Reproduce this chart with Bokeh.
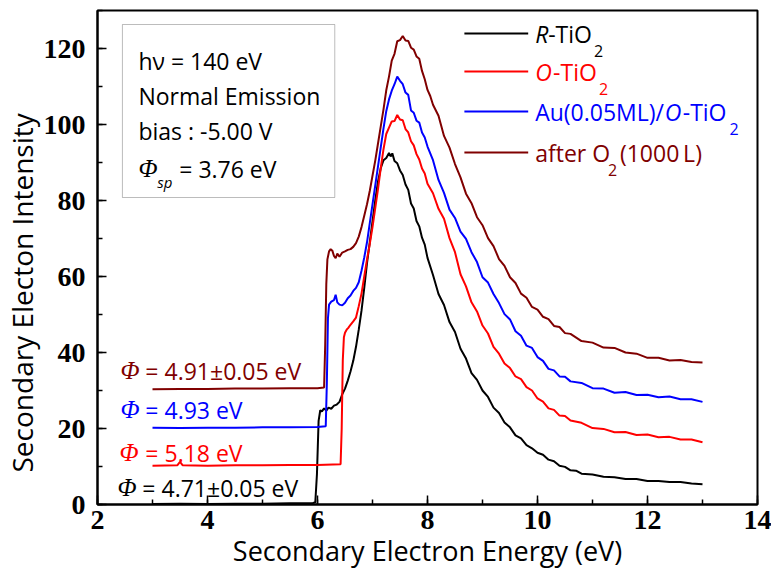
import math
from bokeh.plotting import figure
from bokeh.models import Label, BoxAnnotation, SingleIntervalTicker, Title
from bokeh.embed import file_html
from bokeh.resources import INLINE

# ---------------- data ----------------
r_x = [3.0, 3.5, 4.0, 4.5, 5.0, 5.5, 5.9, 5.96, 5.99, 6.02, 6.05, 6.08, 6.12, 6.16, 6.2, 6.25, 6.3, 6.35, 6.4, 6.45,
       6.5, 6.55, 6.6, 6.65, 6.7, 6.75, 6.8, 6.85, 6.9, 6.95, 7.0, 7.05, 7.1, 7.15, 7.2, 7.25, 7.3, 7.33, 7.36, 7.4,
       7.45, 7.5, 7.55, 7.6, 7.65, 7.7, 7.75, 7.8, 7.85, 7.9, 7.95, 8.0, 8.1, 8.2, 8.3, 8.4, 8.5, 8.6, 8.7, 8.8,
       8.9, 9.0, 9.1, 9.2, 9.3, 9.4, 9.5, 9.6, 9.7, 9.8, 9.9, 10.0, 10.1, 10.2, 10.3, 10.4, 10.5, 10.6, 10.7, 10.8,
       11.0, 11.2, 11.4, 11.6, 11.8, 12.0, 12.2, 12.4, 12.6, 12.8, 13.0]
r_y = [0.1, 0.2, 0.1, 0.2, 0.2, 0.3, 0.3, 0.6, 8.0, 22.0, 24.8, 24.5, 25.3, 24.7, 25.5, 25.2, 26.0, 26.3, 27.0, 29.0,
       30.5, 32.6, 35.0, 37.8, 41.5, 46.0, 51.0, 57.0, 63.5, 69.0, 74.5, 80.0, 85.0, 88.5, 90.6, 91.2, 92.5, 91.6, 92.4, 90.4,
       89.8, 87.9, 86.7, 84.2, 82.8, 79.2, 77.9, 74.6, 73.2, 70.2, 68.4, 64.9, 60.4, 55.4, 52.5, 48.0, 45.4, 41.0, 38.4, 34.6,
       32.8, 30.0, 28.3, 25.5, 24.1, 21.6, 20.3, 18.2, 17.4, 15.6, 14.8, 13.6, 13.1, 11.8, 11.4, 10.2, 9.9, 9.0, 8.9, 8.1,
       7.9, 7.3, 7.2, 6.7, 6.7, 6.2, 6.2, 5.9, 5.9, 5.5, 5.3]

o_x = [3.0, 3.45, 3.5, 3.55, 4.0, 4.5, 5.0, 5.5, 6.0, 6.42, 6.44, 6.46, 6.48, 6.5, 6.53, 6.56, 6.6, 6.65, 6.7, 6.75,
       6.8, 6.85, 6.9, 6.95, 7.0, 7.05, 7.1, 7.15, 7.2, 7.25, 7.3, 7.35, 7.4, 7.45, 7.5, 7.55, 7.6, 7.65, 7.7, 7.75,
       7.8, 7.85, 7.9, 7.95, 8.0, 8.1, 8.2, 8.3, 8.4, 8.5, 8.6, 8.7, 8.8, 8.9, 9.0, 9.1, 9.2, 9.3, 9.4, 9.5,
       9.6, 9.7, 9.8, 9.9, 10.0, 10.1, 10.2, 10.3, 10.4, 10.5, 10.6, 10.8, 11.0, 11.2, 11.4, 11.6, 11.8, 12.0, 12.2, 12.4,
       12.6, 12.8, 13.0]
o_y = [10.2, 10.3, 11.2, 10.3, 10.2, 10.3, 10.3, 10.4, 10.4, 10.6, 20.0, 38.0, 44.0, 45.2, 46.0, 46.5, 47.3, 48.2, 49.2, 52.2,
       55.5, 60.0, 64.5, 68.5, 73.0, 78.0, 83.0, 88.5, 93.5, 97.5, 99.2, 100.8, 100.9, 102.5, 101.3, 101.1, 98.8, 97.9, 95.6, 94.5,
       92.2, 90.8, 88.4, 87.1, 84.4, 81.9, 77.8, 75.2, 70.1, 66.4, 60.6, 57.4, 53.2, 50.8, 47.1, 45.0, 41.5, 39.7, 37.1, 35.9,
       33.7, 33.0, 30.9, 30.0, 27.9, 27.1, 25.3, 24.9, 23.4, 23.3, 22.1, 21.5, 20.1, 19.9, 19.0, 19.1, 18.3, 18.4, 17.7, 17.8,
       17.1, 17.1, 16.4]

au_x = [3.0, 3.5, 4.0, 4.5, 5.0, 5.5, 6.0, 6.15, 6.17, 6.19, 6.21, 6.25, 6.3, 6.33, 6.36, 6.4, 6.45, 6.5, 6.55, 6.6,
        6.65, 6.7, 6.75, 6.8, 6.85, 6.9, 6.95, 7.0, 7.05, 7.1, 7.15, 7.2, 7.25, 7.3, 7.35, 7.4, 7.45, 7.5, 7.55, 7.6,
        7.65, 7.7, 7.75, 7.8, 7.85, 7.9, 7.95, 8.0, 8.1, 8.2, 8.3, 8.4, 8.5, 8.6, 8.7, 8.8, 8.9, 9.0, 9.1, 9.2,
        9.3, 9.4, 9.5, 9.6, 9.7, 9.8, 9.9, 10.0, 10.1, 10.2, 10.3, 10.4, 10.5, 10.6, 10.8, 11.0, 11.2, 11.4, 11.6, 11.8,
        12.0, 12.2, 12.4, 12.6, 12.8, 13.0]
au_y = [20.2, 20.1, 20.2, 20.2, 20.3, 20.3, 20.4, 20.6, 32.0, 49.0, 52.6, 53.4, 53.8, 55.2, 53.2, 52.6, 52.4, 53.1, 54.3, 55.0,
        56.2, 57.0, 58.5, 61.5, 65.0, 69.0, 74.0, 79.0, 84.0, 89.0, 94.0, 99.0, 103.5, 106.6, 108.9, 110.6, 112.6, 111.5, 110.6, 108.4,
        107.8, 103.7, 103.1, 101.0, 100.5, 97.9, 96.6, 94.2, 90.6, 85.4, 82.0, 77.6, 75.4, 71.8, 69.9, 66.4, 63.8, 59.8, 58.4, 55.4,
        53.0, 50.1, 48.7, 45.6, 44.4, 41.8, 41.2, 38.8, 37.8, 35.7, 35.3, 33.7, 33.6, 32.4, 32.0, 30.6, 30.5, 29.4, 29.6, 28.8,
        28.9, 28.2, 28.4, 27.7, 27.7, 27.0]

o2_x = [3.0, 3.5, 4.0, 4.5, 5.0, 5.5, 6.0, 6.12, 6.14, 6.16, 6.18, 6.21, 6.24, 6.27, 6.3, 6.33, 6.36, 6.4, 6.45, 6.5,
        6.55, 6.6, 6.65, 6.7, 6.75, 6.8, 6.85, 6.9, 6.95, 7.0, 7.05, 7.1, 7.15, 7.2, 7.25, 7.3, 7.35, 7.4, 7.45, 7.5,
        7.55, 7.6, 7.65, 7.7, 7.75, 7.8, 7.85, 7.9, 7.95, 8.0, 8.05, 8.1, 8.2, 8.3, 8.4, 8.5, 8.6, 8.7, 8.8, 8.9,
        9.0, 9.1, 9.2, 9.3, 9.4, 9.5, 9.6, 9.7, 9.8, 9.9, 10.0, 10.1, 10.2, 10.3, 10.4, 10.5, 10.6, 10.8, 11.0, 11.2,
        11.4, 11.6, 11.8, 12.0, 12.2, 12.4, 12.6, 12.8, 13.0]
o2_y = [30.3, 30.4, 30.4, 30.5, 30.5, 30.6, 30.6, 30.8, 42.0, 58.0, 64.5, 66.6, 67.2, 66.8, 65.4, 64.8, 66.0, 65.2, 66.3, 66.6,
        67.0, 67.2, 67.8, 68.8, 70.5, 73.0, 76.0, 79.0, 82.5, 86.5, 90.5, 95.0, 99.5, 104.0, 109.0, 112.6, 116.8, 118.6, 121.9, 122.2,
        123.3, 122.1, 122.0, 120.2, 119.7, 117.9, 117.3, 114.1, 111.9, 109.1, 107.5, 105.2, 102.3, 97.0, 93.9, 89.6, 86.1, 81.8, 79.3, 75.6,
        73.5, 70.1, 68.0, 64.6, 62.8, 59.8, 58.3, 55.5, 54.4, 52.0, 51.3, 49.4, 48.8, 47.0, 46.7, 45.1, 44.9, 43.0, 42.6, 41.3,
        41.2, 40.0, 39.7, 38.6, 38.6, 37.9, 38.0, 37.5, 37.4]

series = [
    (r_x, r_y, "black"),
    (o_x, o_y, "#FF0000"),
    (au_x, au_y, "#0000FF"),
    (o2_x, o2_y, "#800000"),
]

x_ticks_interval = 2
y_ticks_interval = 20

# ---------------- figure ----------------
X0, X1, Y0, Y1 = 2, 14, 0, 130
W, H = 771, 579
OFF = 0                              # page offset of the canvas
FL, FR, FT, FB = 95, 757, 10, 504    # frame edges in page pixels


def dx(px):
    return X0 + (px - FL) * (X1 - X0) / (FR - FL)


def dy(py):
    return Y0 + (FB - py) * (Y1 - Y0) / (FB - FT)


p = figure(width=W, height=H, x_range=(X0, X1), y_range=(Y0, Y1),
           output_backend="svg", toolbar_location=None,
           min_border_left=FL - OFF, min_border_right=OFF + W - FR,
           min_border_top=FT - OFF, min_border_bottom=OFF + H - FB)
p.background_fill_color = "white"
p.border_fill_color = "white"
p.outline_line_color = "black"
p.outline_line_width = 2
p.xgrid.visible = False
p.ygrid.visible = False

SANS = "Open Sans"
SERIF = "Liberation Serif"

p.xaxis.ticker = SingleIntervalTicker(interval=x_ticks_interval, num_minor_ticks=2)
p.yaxis.ticker = SingleIntervalTicker(interval=y_ticks_interval, num_minor_ticks=2)
for ax in (p.xaxis[0], p.yaxis[0]):
    ax.axis_line_width = 2
    ax.axis_line_color = "black"
    ax.major_tick_in = 9
    ax.major_tick_out = 0
    ax.minor_tick_in = 5
    ax.minor_tick_out = 0
    ax.major_tick_line_width = 1.5
    ax.minor_tick_line_width = 1.5
    ax.major_tick_line_color = "black"
    ax.minor_tick_line_color = "black"
    ax.major_label_text_font = SERIF
    ax.major_label_text_font_style = "bold"
    ax.major_label_text_font_size = "28px"
    ax.major_label_text_color = "black"
p.xaxis.major_label_standoff = 6
p.yaxis.major_label_standoff = 12

p.xaxis.axis_label = "Secondary Electron Energy (eV)"
p.xaxis.axis_label_text_font = SANS
p.xaxis.axis_label_text_font_style = "normal"
p.xaxis.axis_label_text_font_size = "27px"
p.xaxis.axis_label_text_color = "black"
p.xaxis.axis_label_standoff = 0

ytitle = Title(text="Secondary Electon Intensity", align="left", offset=32,
               text_font=SANS, text_font_size="28px", text_font_style="normal",
               standoff=0, text_color="black")
p.add_layout(ytitle, "left")

for xs, ys, c in series:
    p.line(xs, ys, line_color=c, line_width=2)


def lab(text, px, py, color="black", size=23, font=SANS, style="normal", **kw):
    p.add_layout(Label(x=dx(px), y=dy(py), text=text, text_color=color,
                       text_font=font, text_font_size=f"{size}px", text_font_style=style,
                       text_align=kw.pop("align", "left"), text_baseline=kw.pop("baseline", "middle"), **kw))


# info box
p.add_layout(BoxAnnotation(left=dx(120), right=dx(333), top=dy(24), bottom=dy(197),
                           fill_alpha=0, line_color="#222222", line_width=1))
lab("h\u03bd = 140 eV", 136, 60)
lab("Normal Emission", 136, 95)
lab("bias : -5.00 V", 136, 130)
lab("\u03a6", 136, 168, size=25, font=SERIF, style="italic")
lab("sp", 155, 181, size=15, style="italic")
lab("= 3.76 eV", 177, 168)

# legend
leg_y = [33, 71, 111, 152]
for (xs, ys, c), ly in zip(series, leg_y):
    p.segment(x0=[dx(463)], y0=[dy(ly)], x1=[dx(527)], y1=[dy(ly)], line_color=c, line_width=2)

lab("R", 534, 33, style="italic")
lab("-TiO", 547, 33)
lab("2", 593, 50, size=16)
lab("O", 534, 71, "#FF0000", style="italic")
lab("-TiO", 552, 71, "#FF0000")
lab("2", 598, 88, "#FF0000", size=16)
lab("Au(0.05ML)/", 534, 111, "#0000FF")
lab("O", 664, 111, "#0000FF", style="italic")
lab("-TiO", 682, 111, "#0000FF")
lab("2", 729, 128, "#0000FF", size=16)
lab("after O", 534, 152, "#800000")
lab("2", 607, 169, "#800000", size=16)
lab("(1000\u2009L)", 619, 152, "#800000")

# work function labels
phi = [("= 4.91\u00b10.05 eV", 118, 143, 370, "#800000"),
       ("= 4.93 eV", 118, 143, 409, "#0000FF"),
       ("= 5.18 eV", 117, 143, 452, "#FF0000"),
       ("= 4.71\u00b10.05 eV", 115, 140, 487, "black")]
for t, pxp, pxt, py, c in phi:
    lab("\u03a6", pxp, py, c, size=25, font=SERIF, style="italic")
    lab(t, pxt, py, c, size=23)

open("out.html", "w").write(file_html(p, INLINE))
